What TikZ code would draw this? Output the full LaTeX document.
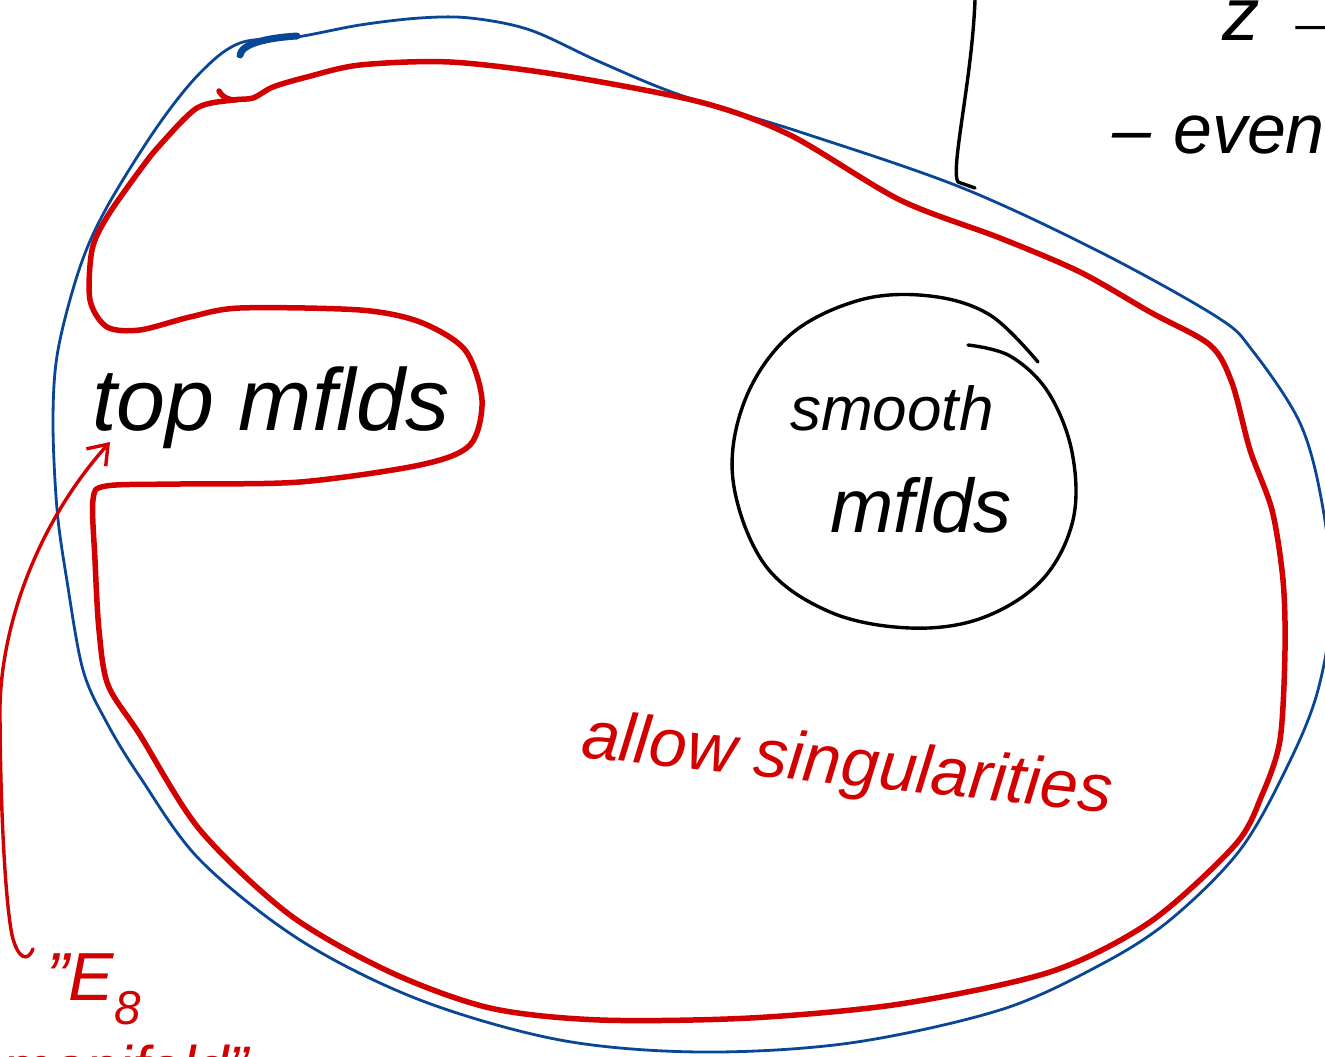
\documentclass[tikz,border=0pt]{standalone}
\usepackage{fontspec}
\setmainfont{Liberation Sans}
\usetikzlibrary{arrows.meta}
\definecolor{inkred}{RGB}{210,0,0}
\definecolor{inkblue}{RGB}{10,70,150}
\tikzset{
  redstroke/.style={draw=inkred, line width=5.5pt, line cap=round, line join=round},
  bluestroke/.style={draw=inkblue, line width=2.8pt, line cap=round, line join=round},
  blackstroke/.style={draw=black, line width=3.4pt, line cap=round, line join=round},
  hand/.style={inner sep=0pt, anchor=base west},
}
\begin{document}
\begin{tikzpicture}[x=1pt,y=-1pt]
\useasboundingbox (0,0) rectangle (1325,1057);
\clip (0,0) rectangle (1325,1057);
\fill[white] (0,0) rectangle (1325,1057);

% blue outer region
\draw[bluestroke] plot[smooth cycle, tension=0.55] coordinates {
 (240,43) (297,37) (360,25) (420,18) (470,18) (530,30) (600,62) (680,95)
 (800,132) (960,187) (1100,252) (1217,317) (1252,350) (1300,423)
 (1322,503) (1332,600) (1318,690) (1288,765) (1240,850) (1170,920)
 (1100,965) (1000,1010) (850,1043) (700,1052) (560,1040) (420,1000)
 (300,940) (200,860) (140,777) (107,723) (83,670) (67,581) (57,509)
 (53,420) (58,350) (80,267) (107,207) (157,127) (200,73)};
\draw[draw=inkblue, line width=7pt, line cap=round] (240,55) .. controls (242,44) and (265,38) .. (297,36);

% red region
\draw[redstroke] plot[smooth cycle, tension=0.5] coordinates {
 (233,100) (253,98) (273,87) (307,77) (360,65) (450,62) (560,75) (700,102)
 (790,135) (900,200) (1000,238) (1080,272) (1150,312) (1210,345)
 (1232,383) (1250,450) (1272,510) (1283,580) (1285,650) (1280,740)
 (1262,795) (1235,845) (1150,922) (1050,972) (900,1004) (750,1018)
 (600,1020) (490,1008) (390,972) (290,915) (200,830) (140,735)
 (108,685) (99,630) (95,560) (93,500) (106,486) (180,484) (300,482)
 (420,465) (470,445) (482,400) (465,350) (420,322) (360,310) (240,308)
 (190,317) (140,330) (107,327) (90,300) (92,250) (107,217) (140,170)
 (160,145) (197,108)};
\draw[redstroke] (219,91) .. controls (222,97) and (228,100) .. (236,100);

% black line from top
\coordinate (ltop) at (975,0);
\coordinate (lbot) at (975,188);
\draw[blackstroke] (ltop) .. controls (972,80) and (950,170) .. (958,182) -- (lbot);

% smooth manifolds circle
\draw[black, line width=3.4pt, line cap=round] plot[smooth, tension=0.6] coordinates {
 (968,345) (1010,356) (1048,392) (1072,452) (1073,520) (1042,580) (982,618)
 (910,628) (830,612) (765,565) (733,480) (745,400) (790,335) (860,300)
 (930,296) (990,315) (1038,362)};

% texts
\node[hand, font=\fontsize{88}{96}\selectfont\itshape] (top) at (92,430) {top mflds};
\node[hand, font=\fontsize{62}{70}\selectfont\itshape] (sm) at (790,430) {smooth};
\node[hand, font=\fontsize{76}{84}\selectfont\itshape] (mf) at (830,532) {mflds};
\node[hand, text=inkred, rotate=-6, font=\fontsize{68}{76}\selectfont\itshape] (sing) at (580,757) {allow singularities};
\node[hand, font=\fontsize{75}{84}\selectfont\itshape] (zz) at (1222,41) {z →};
\node[hand, font=\fontsize{70}{80}\selectfont\itshape] (even) at (1112,153) {–\hspace{22pt}even};
\node[hand, text=inkred, font=\fontsize{68}{76}\selectfont\itshape] (e8) at (46,1000) {"E\textsubscript{8}};
\node[hand, text=inkred, font=\fontsize{60}{70}\selectfont\itshape] (mfld) at (2,1088) {manifold"};

% red arrow
\coordinate (astart) at (33,949);
\coordinate (atip) at (110,442);
\draw[draw=inkred, line width=3.4pt, line cap=round, line join=round, -{Straight Barb[length=18pt, width=26pt, line width=3.4pt]}]
  (astart) .. controls (28,962) and (18,960) .. (12,935)
  .. controls (5,900) and (0,800) .. (0,706)
  .. controls (2,620) and (40,520) .. (atip);
\end{tikzpicture}
\end{document}
